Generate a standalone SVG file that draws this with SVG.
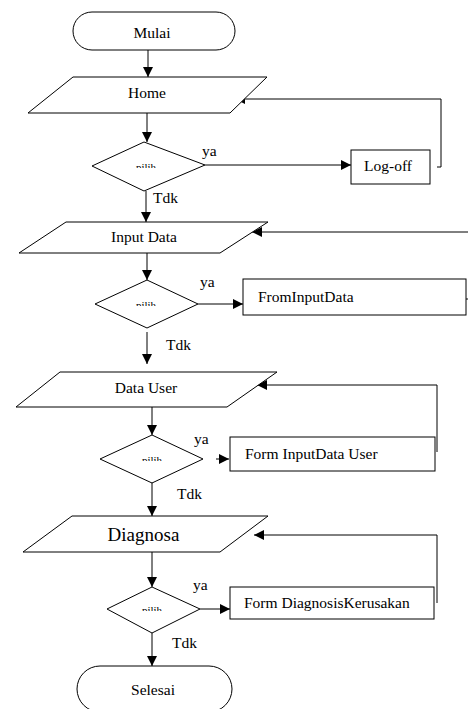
<svg xmlns="http://www.w3.org/2000/svg" width="468" height="709" viewBox="0 0 468 709">
<style>
.s{fill:#fff;stroke:#000;stroke-width:1}
.l{fill:none;stroke:#000;stroke-width:1}
</style>
<defs>
<marker id="a" viewBox="0 0 10 10" refX="10" refY="5" markerWidth="10" markerHeight="10" markerUnits="userSpaceOnUse" orient="auto">
<path d="M0,0 L10,5 L0,10 z" fill="#000"/>
</marker>
<clipPath id="c1"><rect x="100" y="162" width="100" height="6"/></clipPath>
<clipPath id="c2"><rect x="100" y="300" width="100" height="6"/></clipPath>
<clipPath id="c3"><rect x="100" y="455" width="100" height="6"/></clipPath>
<clipPath id="c4"><rect x="100" y="605" width="100" height="6"/></clipPath>
<clipPath id="cm"><rect x="60" y="28" width="200" height="30"/></clipPath>
</defs>
<rect width="468" height="709" fill="#fff"/>
<g font-family="Liberation Serif, Times New Roman, serif" font-size="15.5" fill="#000">
<g id="connectors">
<line class="l" x1="148" y1="50" x2="148" y2="77" marker-end="url(#a)"/>
<line class="l" x1="147" y1="113" x2="147" y2="142" marker-end="url(#a)"/>
<line class="l" x1="205" y1="165" x2="351" y2="165" marker-end="url(#a)"/>
<polyline class="l" points="437,167 441,167 441,99 235,99" marker-end="url(#a)"/>
<line class="l" x1="146" y1="191" x2="146" y2="222" marker-end="url(#a)"/>
<line class="l" x1="468" y1="232" x2="252" y2="232" marker-end="url(#a)"/>
<line class="l" x1="147" y1="253" x2="147" y2="280" marker-end="url(#a)"/>
<line class="l" x1="198" y1="304" x2="243" y2="304" marker-end="url(#a)"/>
<line class="l" x1="466" y1="299" x2="468" y2="299"/>
<line class="l" x1="147" y1="332" x2="147" y2="364" marker-end="url(#a)"/>
<polyline class="l" points="437,452 437,385 257,385" marker-end="url(#a)"/>
<line class="l" x1="152" y1="407" x2="152" y2="435" marker-end="url(#a)"/>
<line class="l" x1="216" y1="459" x2="229" y2="459" marker-end="url(#a)"/>
<line class="l" x1="152" y1="482" x2="152" y2="516" marker-end="url(#a)"/>
<polyline class="l" points="437,603 437,535 254,535" marker-end="url(#a)"/>
<line class="l" x1="152" y1="552" x2="152" y2="587" marker-end="url(#a)"/>
<line class="l" x1="200" y1="609" x2="230" y2="609" marker-end="url(#a)"/>
<line class="l" x1="152" y1="633" x2="152" y2="666" marker-end="url(#a)"/>
<text x="202" y="156">ya</text>
<text x="153" y="203">Tdk</text>
<text x="200" y="287">ya</text>
<text x="166" y="350">Tdk</text>
<text x="194" y="444">ya</text>
<text x="177" y="499">Tdk</text>
<text x="193" y="590">ya</text>
<text x="172" y="648">Tdk</text>
</g>
<g id="mulai">
<rect class="s" x="73" y="12" width="162" height="38" rx="19"/>
<text x="152" y="38" text-anchor="middle" clip-path="url(#cm)">Mulai</text>
</g>
<g id="home">
<polygon class="s" points="73,77 267,77 230,113 28,113"/>
<text x="147" y="98" text-anchor="middle">Home</text>
</g>
<g id="d1">
<polygon class="s" points="144,142 205,165 144,191 92,166"/>
<text x="146" y="171" font-size="11" text-anchor="middle" clip-path="url(#c1)">pilih</text>
</g>
<g id="logoff">
<rect class="s" x="351" y="150" width="79" height="34"/>
<text x="388" y="171" text-anchor="middle">Log-off</text>
</g>
<g id="inputdata">
<polygon class="s" points="66,222 268,222 220,253 19,253"/>
<text x="144" y="242" text-anchor="middle">Input Data</text>
</g>
<g id="d2">
<polygon class="s" points="147,280 198,304 147,328 95,304"/>
<text x="146" y="309" font-size="11" text-anchor="middle" clip-path="url(#c2)">pilih</text>
</g>
<g id="frominputdata">
<rect class="s" x="243" y="279" width="223" height="36"/>
<text x="258" y="302">FromInputData</text>
</g>
<g id="datauser">
<polygon class="s" points="60,372 277,372 227,407 16,407"/>
<text x="146" y="393" text-anchor="middle">Data User</text>
</g>
<g id="d3">
<polygon class="s" points="152,435 203,459 152,483 100,459"/>
<text x="152" y="464" font-size="11" text-anchor="middle" clip-path="url(#c3)">pilih</text>
</g>
<g id="forminputdatauser">
<rect class="s" x="230" y="437" width="205" height="34"/>
<text x="245" y="459">Form InputData User</text>
</g>
<g id="diagnosa">
<polygon class="s" points="72,516 268,516 220,552 23,552"/>
<text x="143.5" y="541" font-size="19" text-anchor="middle">Diagnosa</text>
</g>
<g id="d4">
<polygon class="s" points="152,587 200,609 152,633 107,609"/>
<text x="152" y="614" font-size="11" text-anchor="middle" clip-path="url(#c4)">pilih</text>
</g>
<g id="formdiagnosis">
<rect class="s" x="230" y="587" width="204" height="32"/>
<text x="244" y="608">Form DiagnosisKerusakan</text>
</g>
<g id="selesai">
<rect class="s" x="77" y="666" width="155" height="46" rx="23"/>
<text x="153" y="695" text-anchor="middle">Selesai</text>
</g>
</g>
</svg>
